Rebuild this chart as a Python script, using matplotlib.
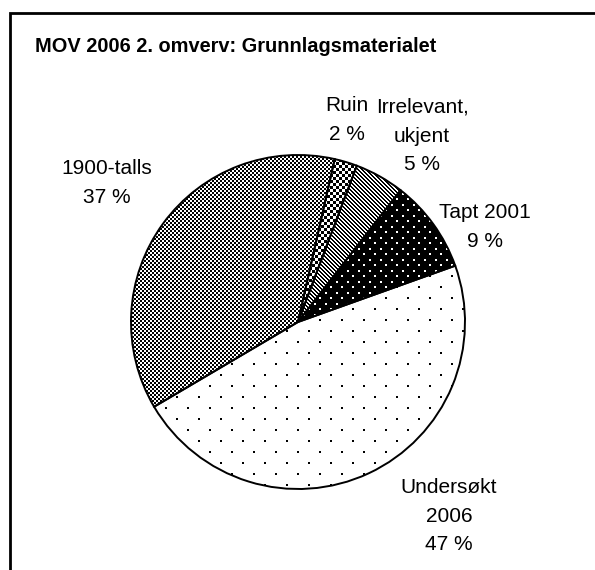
"""Pie of MOV 2006 basis material, Excel-style bitmap fill patterns."""
import matplotlib
matplotlib.use("Agg")
import matplotlib.pyplot as plt  # noqa: E402
import numpy as np  # noqa: E402
from matplotlib.lines import Line2D  # noqa: E402

plt.rcParams["font.family"] = ["Liberation Sans", "DejaVu Sans"]

title = "MOV 2006 2. omverv: Grunnlagsmaterialet"
categories = ["Ruin", "Irrelevant,\nukjent", "Tapt 2001", "Undersøkt\n2006", "1900-talls"]
shares = [2.2, 4.8, 9.0, 47.0, 37.0]
pct_labels = ["2 %", "5 %", "9 %", "47 %", "37 %"]

W, H, DPI = 595, 570, 100
CX, CY, R = 298, 322, 167   # pie centre / radius in pixels


def px_to_data(px, py):
    return (px - CX) / R, (CY - py) / R


# bitmap fills, one per slice (True = black)
yy, xx = np.mgrid[0:H, 0:W]


def dots(period, size=2):
    h = period // 2
    a = (xx % period < size) & (yy % period < size)
    b = ((xx + h) % period < size) & ((yy + h) % period < size)
    return a | b


patterns = [
    ((xx // 3 + yy // 3) % 2 == 0),          # Ruin: coarse checker
    ((xx - yy) % 4 < 2),                      # Irrelevant: diagonal lines
    ~dots(11),                                # Tapt: black with white dots
    dots(22),                                 # Undersøkt: sparse black dots
    ((xx // 2 + yy // 2) % 2 == 0),          # 1900-talls: fine checker
]

fig = plt.figure(figsize=(W / DPI, H / DPI), dpi=DPI)
lim = 1.3
ax = fig.add_axes([(CX - lim * R) / W, (H - CY - lim * R) / H, 2 * lim * R / W, 2 * lim * R / H])
wedges, _ = ax.pie(shares, startangle=77.3, counterclock=False, radius=1.0,
                   wedgeprops=dict(facecolor="none", edgecolor="black", linewidth=1.4))
ax.set_xlim(-lim, lim)
ax.set_ylim(-lim, lim)
ax.set_axis_off()

for w, pat in zip(wedges, patterns):
    rgba = np.ones((H, W, 4))
    rgba[pat, :3] = 0.0
    im = fig.figimage(rgba, xo=0, yo=0, origin="upper", zorder=-1)
    im.set_clip_path(w)

# label anchors (pixel centres)
label_pos = [(347, 120), (422, 136), (485, 227), (449, 516), (107, 183)]
for cat, pct, (px, py) in zip(categories, pct_labels, label_pos):
    x, y = px_to_data(px, py)
    ax.text(x, y, f"{cat}\n{pct}", ha="center", va="center", fontsize=15,
            linespacing=1.65, multialignment="center")

fig.text(35 / W, 1 - 47 / H, title, ha="left", va="center", fontsize=14.4, fontweight="bold")

# chart frame (cut off on the right and bottom in the source)
fx, fy = 9.5 / W, 1 - 12.5 / H
fig.add_artist(Line2D([fx, fx, 1.0], [0.0, fy, fy], transform=fig.transFigure,
                      color="black", linewidth=2.0, solid_joinstyle="miter"))

fig.savefig("out.png", dpi=DPI)
plt.close(fig)
